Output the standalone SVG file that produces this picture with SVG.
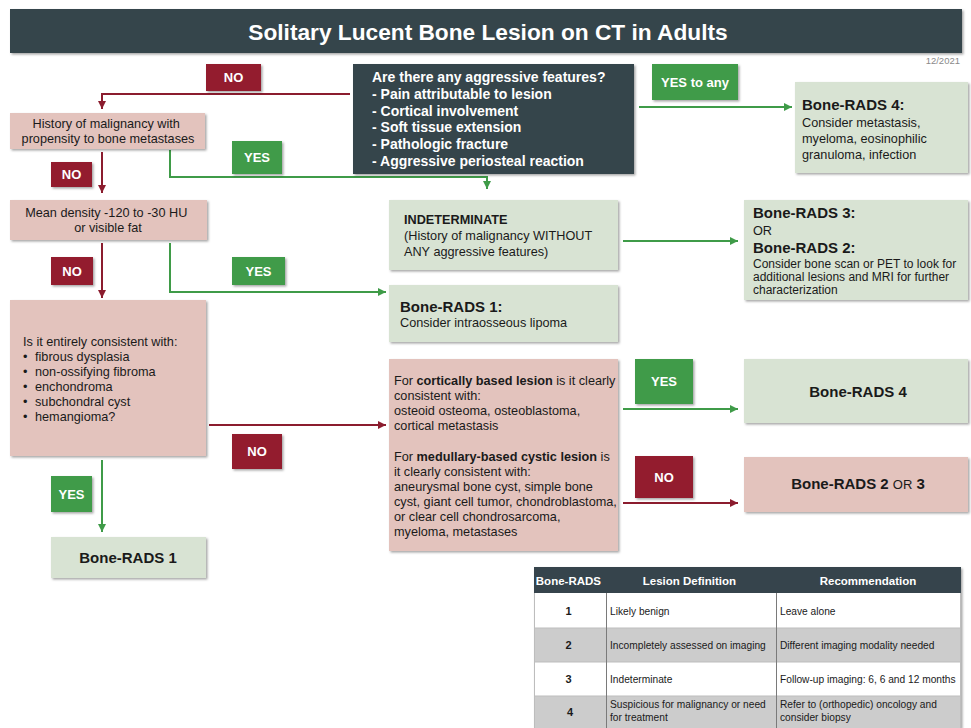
<svg xmlns="http://www.w3.org/2000/svg" width="971" height="728" viewBox="0 0 971 728">
  <defs>
    <filter id="shadow" x="-5%" y="-5%" width="115%" height="120%">
      <feDropShadow dx="1.5" dy="1.5" stdDeviation="0.8" flood-color="#000" flood-opacity="0.35"/>
    </filter>
    <marker id="arrRed" viewBox="0 0 8 8" refX="8" refY="4" markerWidth="8" markerHeight="8" markerUnits="userSpaceOnUse" orient="auto">
      <path d="M0,0 L8,4 L0,8 z" fill="#8b1c2e"/>
    </marker>
    <marker id="arrGreen" viewBox="0 0 8 8" refX="8" refY="4" markerWidth="8" markerHeight="8" markerUnits="userSpaceOnUse" orient="auto">
      <path d="M0,0 L8,4 L0,8 z" fill="#3f9b48"/>
    </marker>
  </defs>
  <style>
    text { font-family: "Liberation Sans", Arial, sans-serif; fill: #1a1a1a; }
    .dark { fill: #36444c; }
    .pink { fill: #e3c3bd; filter: url(#shadow); }
    .mint { fill: #d8e3d3; filter: url(#shadow); }
    .lblR { fill: #931a2f; filter: url(#shadow); }
    .lblG { fill: #3f9b48; filter: url(#shadow); }
    .lbl { fill: #fff; font-weight: bold; font-size: 13px; text-anchor: middle; }
    .body { font-size: 12.7px; }
    .head { font-size: 15px; font-weight: bold; }
    .small { font-size: 12px; }
    .c { text-anchor: middle; }
    .b { font-weight: bold; }
    .lineR { fill: none; stroke: #8b1c2e; stroke-width: 2; marker-end: url(#arrRed); }
    .lineG { fill: none; stroke: #3f9b48; stroke-width: 2; marker-end: url(#arrGreen); }
    .wt { fill: #fff; }
    .tcell { font-size: 10.2px; }
  </style>

  <!-- title banner -->
  <g id="title">
    <rect x="10" y="9" width="952" height="44" class="dark" filter="url(#shadow)"/>
    <text x="488" y="40" class="wt c b" font-size="22.7">Solitary Lucent Bone Lesion on CT in Adults</text>
    <text x="960" y="64" font-size="9.5" text-anchor="end" style="fill:#8a8a8a">12/2021</text>
  </g>

  <!-- connectors -->
  <g id="connectors">
    <path class="lineR" d="M350,94 H102 V109"/>
    <path class="lineR" d="M102,152 V193"/>
    <path class="lineG" d="M170,150 V177 H487 V189"/>
    <path class="lineR" d="M102,243 V298"/>
    <path class="lineG" d="M170,243 V292 H386"/>
    <path class="lineG" d="M623,241 H738"/>
    <path class="lineG" d="M639,107 H792"/>
    <path class="lineR" d="M209,425 H386"/>
    <path class="lineG" d="M102,460 V532"/>
    <path class="lineG" d="M623,409 H738"/>
    <path class="lineR" d="M623,503 H738"/>
  </g>

  <!-- decision labels -->
  <g id="labels">
    <rect x="206" y="64" width="55" height="27" class="lblR"/>
    <text x="233.5" y="82" class="lbl">NO</text>
    <rect x="652" y="64" width="86" height="36" class="lblG"/>
    <text x="695" y="87" class="lbl">YES to any</text>
    <rect x="232" y="141" width="50" height="33" class="lblG"/>
    <text x="257" y="162" class="lbl">YES</text>
    <rect x="51" y="162" width="41" height="25" class="lblR"/>
    <text x="71.5" y="179" class="lbl">NO</text>
    <rect x="51" y="257" width="42" height="28" class="lblR"/>
    <text x="72" y="276" class="lbl">NO</text>
    <rect x="232" y="257" width="53" height="28" class="lblG"/>
    <text x="258.5" y="276" class="lbl">YES</text>
    <rect x="232" y="434" width="50" height="35" class="lblR"/>
    <text x="257" y="456" class="lbl">NO</text>
    <rect x="51" y="476" width="41" height="36" class="lblG"/>
    <text x="71.5" y="499" class="lbl">YES</text>
    <rect x="635" y="359" width="58" height="45" class="lblG"/>
    <text x="664" y="386" class="lbl">YES</text>
    <rect x="635" y="456" width="58" height="42" class="lblR"/>
    <text x="664" y="482" class="lbl">NO</text>
  </g>

  <!-- nodes -->
  <g id="aggressive">
    <rect x="353" y="64" width="281" height="110" class="dark" filter="url(#shadow)"/>
    <text class="wt b" font-size="14">
      <tspan x="372" y="82">Are there any aggressive features?</tspan>
      <tspan x="372" y="99">- Pain attributable to lesion</tspan>
      <tspan x="372" y="116">- Cortical involvement</tspan>
      <tspan x="372" y="132">- Soft tissue extension</tspan>
      <tspan x="372" y="149">- Pathologic fracture</tspan>
      <tspan x="372" y="166">- Aggressive periosteal reaction</tspan>
    </text>
  </g>

  <g id="history">
    <rect x="10" y="113" width="195" height="36" class="pink"/>
    <text class="body c">
      <tspan x="108" y="128">History of malignancy with</tspan>
      <tspan x="108" y="143">propensity to bone metastases</tspan>
    </text>
  </g>

  <g id="density">
    <rect x="10" y="200" width="197" height="40" class="pink"/>
    <text class="body c">
      <tspan x="108" y="217">Mean density -120 to -30 HU</tspan>
      <tspan x="108" y="232">or visible fat</tspan>
    </text>
  </g>

  <g id="consistent">
    <rect x="10" y="300" width="196" height="156" class="pink"/>
    <text x="23" y="346" class="body">Is it entirely consistent with:</text>
    <text class="body">
      <tspan x="23" y="361">•</tspan><tspan x="35" y="361">fibrous dysplasia</tspan>
      <tspan x="23" y="376">•</tspan><tspan x="35" y="376">non-ossifying fibroma</tspan>
      <tspan x="23" y="391">•</tspan><tspan x="35" y="391">enchondroma</tspan>
      <tspan x="23" y="406">•</tspan><tspan x="35" y="406">subchondral cyst</tspan>
      <tspan x="23" y="421">•</tspan><tspan x="35" y="421">hemangioma?</tspan>
    </text>
  </g>

  <g id="rads1-bottom">
    <rect x="51" y="537" width="155" height="41" class="mint"/>
    <text x="128" y="563" class="head c">Bone-RADS 1</text>
  </g>

  <g id="indeterminate">
    <rect x="389" y="200" width="229" height="70" class="mint"/>
    <text class="body">
      <tspan x="404" y="224" class="b">INDETERMINATE</tspan>
      <tspan x="404" y="240">(History of malignancy WITHOUT</tspan>
      <tspan x="404" y="256">ANY aggressive features)</tspan>
    </text>
  </g>

  <g id="rads1-lipoma">
    <rect x="389" y="285" width="229" height="57" class="mint"/>
    <text x="400" y="312" class="head">Bone-RADS 1:</text>
    <text x="400" y="327" class="body">Consider intraosseous lipoma</text>
  </g>

  <g id="cortical">
    <rect x="389" y="359" width="229" height="192" class="pink"/>
    <text class="body">
      <tspan x="394" y="385">For <tspan class="b">cortically based lesion</tspan> is it clearly</tspan>
      <tspan x="394" y="400">consistent with:</tspan>
      <tspan x="394" y="415">osteoid osteoma, osteoblastoma,</tspan>
      <tspan x="394" y="430">cortical metastasis</tspan>
      <tspan x="394" y="461">For <tspan class="b">medullary-based cystic lesion</tspan> is</tspan>
      <tspan x="394" y="476">it clearly consistent with:</tspan>
      <tspan x="394" y="491">aneurysmal bone cyst, simple bone</tspan>
      <tspan x="394" y="506">cyst, giant cell tumor, chondroblastoma,</tspan>
      <tspan x="394" y="521">or clear cell chondrosarcoma,</tspan>
      <tspan x="394" y="536">myeloma, metastases</tspan>
    </text>
  </g>

  <g id="rads4-top">
    <rect x="795" y="82" width="173" height="91" class="mint"/>
    <text x="802" y="110" class="head">Bone-RADS 4:</text>
    <text class="body">
      <tspan x="802" y="127">Consider metastasis,</tspan>
      <tspan x="802" y="143">myeloma, eosinophilic</tspan>
      <tspan x="802" y="159">granuloma, infection</tspan>
    </text>
  </g>

  <g id="rads3-or-2">
    <rect x="744" y="200" width="224" height="100" class="mint"/>
    <text x="753" y="218" class="head">Bone-RADS 3:</text>
    <text x="753" y="235" class="body">OR</text>
    <text x="753" y="253" class="head">Bone-RADS 2:</text>
    <text class="small">
      <tspan x="753" y="268">Consider bone scan or PET to look for</tspan>
      <tspan x="753" y="281">additional lesions and MRI for further</tspan>
      <tspan x="753" y="294">characterization</tspan>
    </text>
  </g>

  <g id="rads4-mid">
    <rect x="744" y="359" width="224" height="64" class="mint"/>
    <text x="858" y="397" class="head c">Bone-RADS 4</text>
  </g>

  <g id="rads2-or-3">
    <rect x="744" y="457" width="224" height="55" class="pink"/>
    <text x="858" y="489" class="head c">Bone-RADS 2 <tspan font-weight="normal" font-size="13">OR</tspan> 3</text>
  </g>

  <!-- summary table -->
  <g id="table">
    <rect x="534" y="567" width="427" height="161" fill="#fff" filter="url(#shadow)"/>
    <rect x="534" y="567" width="427" height="26" class="dark"/>
    <rect x="534" y="628" width="427" height="34" fill="#cccccc"/>
    <rect x="534" y="696" width="427" height="32" fill="#cccccc"/>
    <g stroke="#bdbdbd" stroke-width="1">
      <line x1="534" y1="628" x2="961" y2="628"/>
      <line x1="534" y1="662" x2="961" y2="662"/>
      <line x1="534" y1="696" x2="961" y2="696"/>
      <line x1="534.5" y1="593" x2="534.5" y2="728"/>
      <line x1="960.5" y1="593" x2="960.5" y2="728"/>
    </g>
    <g stroke="#7a7a7a" stroke-width="1">
      <line x1="606.5" y1="593" x2="606.5" y2="728"/>
      <line x1="776.5" y1="593" x2="776.5" y2="728"/>
    </g>
    <text class="wt b c" font-size="11.5">
      <tspan x="570" y="585">Bone-RADS</tspan>
      <tspan x="691" y="585">Lesion Definition</tspan>
      <tspan x="868" y="585">Recommendation</tspan>
    </text>
    <text class="b c" font-size="11">
      <tspan x="570" y="615">1</tspan>
      <tspan x="570" y="649">2</tspan>
      <tspan x="570" y="683">3</tspan>
      <tspan x="570" y="716">4</tspan>
    </text>
    <text class="tcell">
      <tspan x="610" y="615">Likely benign</tspan>
      <tspan x="610" y="649">Incompletely assessed on imaging</tspan>
      <tspan x="610" y="683">Indeterminate</tspan>
      <tspan x="610" y="708">Suspicious for malignancy or need</tspan>
      <tspan x="610" y="721">for treatment</tspan>
      <tspan x="780" y="615">Leave alone</tspan>
      <tspan x="780" y="649">Different imaging modality needed</tspan>
      <tspan x="780" y="683">Follow-up imaging: 6, 6 and 12 months</tspan>
      <tspan x="780" y="708">Refer to (orthopedic) oncology and</tspan>
      <tspan x="780" y="721">consider biopsy</tspan>
    </text>
  </g>
</svg>
